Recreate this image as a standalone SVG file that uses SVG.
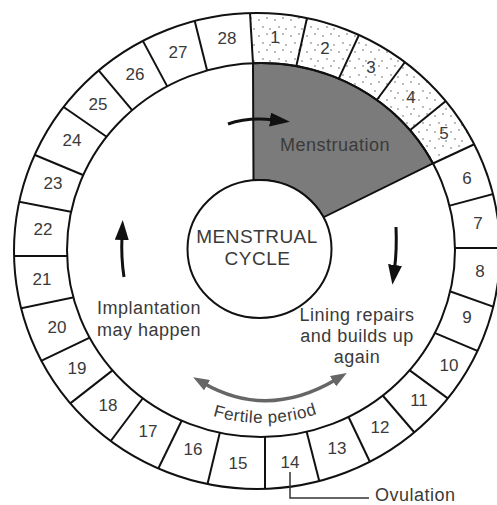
<svg xmlns="http://www.w3.org/2000/svg" width="497" height="505" viewBox="0 0 497 505">
<style>
.ln{fill:none;stroke:#111;stroke-width:2}
.num{font-family:"Liberation Sans",Arial,sans-serif;font-size:17px;fill:#3a3a3a;text-anchor:middle}
.lbl{font-family:"Liberation Sans",Arial,sans-serif;font-size:18px;fill:#3a3a3a;letter-spacing:0.5px}
.mid{text-anchor:middle}
.arr{fill:none;stroke:#111;stroke-width:3;marker-end:url(#hb)}
</style>
<defs>
<clipPath id="ring"><path clip-rule="evenodd" d="M14 251A243 238 0 1 0 500 251A243 238 0 1 0 14 251Z M67 250A194 187 0 1 0 455 250A194 187 0 1 0 67 250Z"/></clipPath>
<pattern id="dots" width="16" height="16" patternUnits="userSpaceOnUse">
<circle cx="3" cy="4" r="0.8" fill="#666"/><circle cx="11" cy="2" r="0.8" fill="#666"/><circle cx="7" cy="11" r="0.8" fill="#666"/><circle cx="14" cy="13" r="0.8" fill="#666"/>
</pattern>
<marker id="hb" markerUnits="userSpaceOnUse" markerWidth="20" markerHeight="14" refX="4" refY="7" orient="auto"><path d="M0,0 L20,7 L0,14 z" fill="#111"/></marker>
<marker id="hg" markerUnits="userSpaceOnUse" markerWidth="16" markerHeight="12" refX="4" refY="6" orient="auto"><path d="M0,0 L16,6 L0,12 z" fill="#666"/></marker>
<marker id="hgs" markerUnits="userSpaceOnUse" markerWidth="16" markerHeight="12" refX="4" refY="6" orient="auto-start-reverse"><path d="M0,0 L16,6 L0,12 z" fill="#666"/></marker>
</defs>
<rect width="497" height="505" fill="#fff"/>
<g id="menses-days-fill" clip-path="url(#ring)">
<polygon points="249,-2 500,-20 520,130 489.9,137 421.1,169 330,180 253.9,78" fill="url(#dots)"/>
</g>
<g id="menstruation-sector">
<path d="M253 63.2A194 187 0 0 1 433 163.4L323.5 217.3A72 69 0 0 0 253.5 180.2Z" fill="#7b7b7b" stroke="#111" stroke-width="2"/>
<text class="lbl mid" x="335" y="151">Menstruation</text>
</g>
<g id="ring-outline">
<ellipse class="ln" cx="257" cy="251" rx="243" ry="238"/>
<ellipse class="ln" cx="261" cy="250" rx="194" ry="187"/>
</g>
<g id="dividers" clip-path="url(#ring)" stroke="#111" stroke-width="2">
<line x1="249.1" y1="-2" x2="253.9" y2="78"/>
<line x1="310" y1="4.5" x2="294" y2="76.5"/>
<line x1="364.7" y1="22.7" x2="334.3" y2="88.3"/>
<line x1="412.8" y1="51.5" x2="371.2" y2="107.5"/>
<line x1="456.9" y1="91.9" x2="404.1" y2="135.1"/>
<line x1="489.9" y1="137" x2="421.1" y2="169"/>
<line x1="510.5" y1="189.4" x2="438.5" y2="208.6"/>
<line x1="510" y1="248" x2="445" y2="248"/>
<line x1="510.5" y1="312.8" x2="438.5" y2="287.2"/>
<line x1="493.5" y1="357.7" x2="421.5" y2="327.3"/>
<line x1="461.4" y1="408.4" x2="400.6" y2="363.6"/>
<line x1="423" y1="442.5" x2="375" y2="386.5"/>
<line x1="376.3" y1="475.2" x2="342.7" y2="404.8"/>
<line x1="322.6" y1="494.1" x2="303.4" y2="418.9"/>
<line x1="265" y1="503.3" x2="265" y2="421.7"/>
<line x1="204.4" y1="497" x2="223.6" y2="417"/>
<line x1="153.4" y1="478.5" x2="188.6" y2="406.5"/>
<line x1="104" y1="450" x2="152" y2="386"/>
<line x1="59.7" y1="411.6" x2="125.3" y2="360.4"/>
<line x1="28.6" y1="366.9" x2="105.4" y2="330.1"/>
<line x1="6.1" y1="311.3" x2="90.9" y2="293.7"/>
<line x1="-0.9" y1="256" x2="83.9" y2="256"/>
<line x1="4.4" y1="199" x2="87.6" y2="215"/>
<line x1="20.6" y1="149" x2="97.4" y2="181"/>
<line x1="52.4" y1="99.3" x2="119.6" y2="145.7"/>
<line x1="90.4" y1="60.6" x2="141.6" y2="121.4"/>
<line x1="137.1" y1="30.1" x2="173.9" y2="98.9"/>
<line x1="191.4" y1="7.6" x2="210.6" y2="84.4"/>
</g>
<g id="day-1"><text class="num" x="275" y="43">1</text></g>
<g id="day-2"><text class="num" x="325" y="54">2</text></g>
<g id="day-3"><text class="num" x="371" y="73">3</text></g>
<g id="day-4"><text class="num" x="411" y="103">4</text></g>
<g id="day-5"><text class="num" x="444" y="139">5</text></g>
<g id="day-6"><text class="num" x="467" y="184">6</text></g>
<g id="day-7"><text class="num" x="478" y="229">7</text></g>
<g id="day-8"><text class="num" x="480" y="277">8</text></g>
<g id="day-9"><text class="num" x="467" y="323">9</text></g>
<g id="day-10"><text class="num" x="449" y="371">10</text></g>
<g id="day-11"><text class="num" x="419" y="406">11</text></g>
<g id="day-12"><text class="num" x="380" y="433">12</text></g>
<g id="day-13"><text class="num" x="337" y="454">13</text></g>
<g id="day-14"><text class="num" x="290" y="468">14</text></g>
<g id="day-15"><text class="num" x="238" y="469">15</text></g>
<g id="day-16"><text class="num" x="193" y="455">16</text></g>
<g id="day-17"><text class="num" x="148" y="437">17</text></g>
<g id="day-18"><text class="num" x="108" y="411">18</text></g>
<g id="day-19"><text class="num" x="77" y="374">19</text></g>
<g id="day-20"><text class="num" x="57" y="333">20</text></g>
<g id="day-21"><text class="num" x="42" y="285">21</text></g>
<g id="day-22"><text class="num" x="43" y="235">22</text></g>
<g id="day-23"><text class="num" x="53" y="189">23</text></g>
<g id="day-24"><text class="num" x="72" y="146">24</text></g>
<g id="day-25"><text class="num" x="98" y="110">25</text></g>
<g id="day-26"><text class="num" x="135" y="80">26</text></g>
<g id="day-27"><text class="num" x="178" y="58">27</text></g>
<g id="day-28"><text class="num" x="227" y="44">28</text></g>
<g id="center">
<ellipse cx="259.5" cy="249" rx="72" ry="69" fill="#fff" stroke="#111" stroke-width="2"/>
<text class="lbl mid" x="257" y="243" style="font-size:19px">MENSTRUAL</text>
<text class="lbl mid" x="257.5" y="265" style="font-size:19px">CYCLE</text>
</g>
<g id="implantation"><text class="lbl mid" x="149" y="314">Implantation</text><text class="lbl mid" x="149" y="336">may happen</text></g>
<g id="lining"><text class="lbl mid" x="357" y="321">Lining repairs</text><text class="lbl mid" x="357" y="342">and builds up</text><text class="lbl mid" x="357" y="363">again</text></g>
<g id="fertile">
<path id="fp" d="M200 411.5A173 173 0 0 0 330 409" fill="none"/>
<text class="lbl" style="font-size:17px"><textPath href="#fp" startOffset="50%" text-anchor="middle">Fertile period</textPath></text>
</g>
<g id="ovulation">
<path d="M290 472V498H369" fill="none" stroke="#333" stroke-width="1.5"/>
<text class="lbl" x="375" y="501">Ovulation</text>
</g>
<g id="connectors">
<path class="arr" d="M228 124Q248 117 274 120"/>
<path class="arr" d="M396 227Q397 250 394.5 269"/>
<path class="arr" d="M124 277Q121 258 122 236"/>
<path d="M203.6 383.2Q268 420 336.5 379.2" fill="none" stroke="#666" stroke-width="3.5" marker-start="url(#hgs)" marker-end="url(#hg)"/>
</g>
</svg>
